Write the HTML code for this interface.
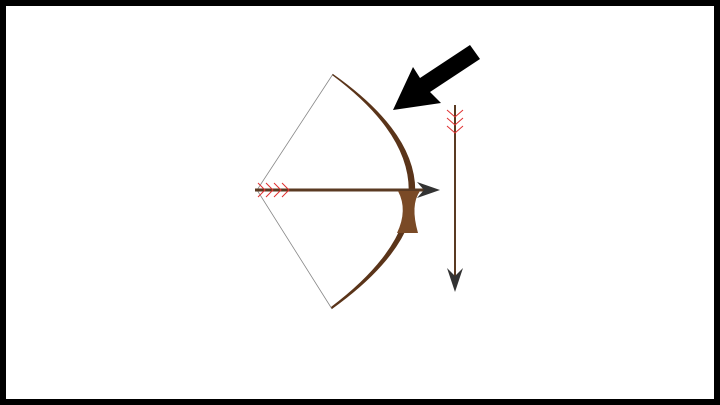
<!DOCTYPE html>
<html><head><meta charset="utf-8"><style>html,body{margin:0;padding:0;background:#fff}svg{display:block}</style></head>
<body>
<svg width="720" height="405" viewBox="0 0 720 405">
<rect x="3" y="3" width="714" height="399" fill="#fff" stroke="#000" stroke-width="6"/>
<g stroke="#888" stroke-width="0.8" fill="none">
<polyline points="333,74 257,190 332,309"/>
</g>
<path d="M333,74 Q498,190 332,309 L331,307 Q486,190 332,75 Z" fill="#5a3419"/>
<g>
<line x1="255" y1="190" x2="425" y2="190" stroke="#5a3a22" stroke-width="3"/>
<polygon points="417,182 440,190 417,198 424,190" fill="#333"/>
<g stroke="#e03030" stroke-width="1" fill="none">
<polyline points="258,183 265,190 258,197"/>
<polyline points="266,183 273,190 266,197"/>
<polyline points="274,183 281,190 274,197"/>
<polyline points="282,183 289,190 282,197"/>
</g>
</g>
<path d="M398,191 L420,191 Q410,205 418,233 L397,233 Q408,210 398,191 Z" fill="#7a4a26"/>
<g>
<line x1="455" y1="105" x2="455" y2="285" stroke="#5a3a22" stroke-width="2"/>
<polygon points="447,268 455,292 463,268 455,276" fill="#333"/>
<g stroke="#e03030" stroke-width="1" fill="none">
<polyline points="447,110 455,117 463,110"/>
<polyline points="447,118 455,125 463,118"/>
<polyline points="447,126 455,133 463,126"/>
</g>
</g>
<polygon points="470,45 480,59 430,92 441,103 393,110 413,67 420,78" fill="#000"/>
</svg>
</body></html>
